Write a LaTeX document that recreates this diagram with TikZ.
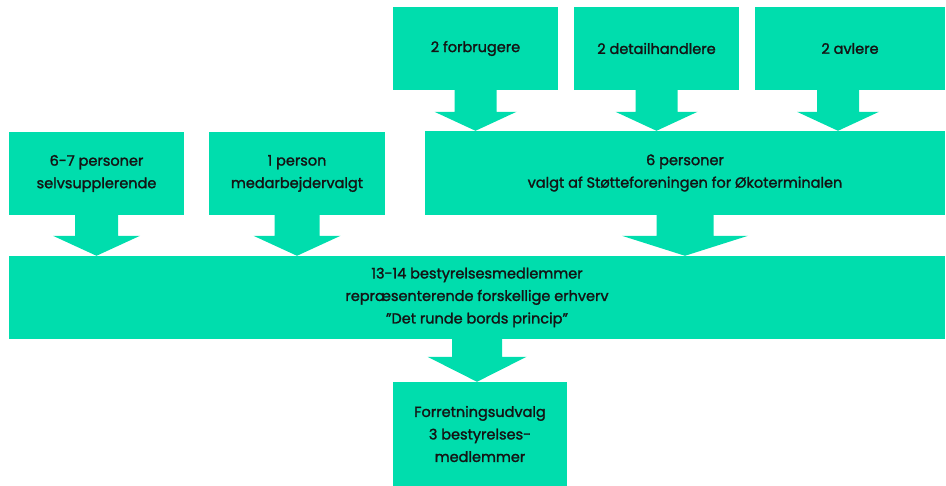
\documentclass[tikz,border=0pt]{standalone}
\usepackage{fontspec}
\setmainfont{Poppins}
\newfontfamily\boxfont{Poppins}[FakeBold=1.6]
\usepackage{tikz}
\usetikzlibrary{calc}
\definecolor{teal}{RGB}{0,221,173}
\definecolor{ink}{RGB}{20,20,20}

\newcommand{\fatarrow}[5]{%
  \fill[teal] let \p1=#1, \p2=#2 in
    (\x1-#3pt,\y1+0.5pt) -- (\x1+#3pt,\y1+0.5pt) -- (\x1+#3pt,\y2+#5pt)
    -- (\x1+#4pt,\y2+#5pt) -- (\x1,\y2) -- (\x1-#4pt,\y2+#5pt)
    -- (\x1-#3pt,\y2+#5pt) -- cycle;}

\begin{document}
\begin{tikzpicture}[x=1pt,y=1pt,
    box/.style={fill=teal,text=ink,inner sep=0pt,align=center,
      font=\boxfont\fontsize{14.5}{22.5}\selectfont}]
  \useasboundingbox (0,0) rectangle (946,486);
  \node[box,minimum width=165,minimum height=83] (forbrug) at (475.5,437.5) {2 forbrugere};
  \node[box,minimum width=165,minimum height=83] (detail) at (656.5,437.5) {2 detailhandlere};
  \node[box,minimum width=190,minimum height=83] (avler) at (850,437.5) {2 avlere};
  \node[box,minimum width=520,minimum height=84] (seks) at (685,313) {6 personer\\valgt af Støtteforeningen for Økoterminalen};
  \node[box,minimum width=175,minimum height=83] (selv) at (96.5,312.5) {6-7 personer\\selvsupplerende};
  \node[box,minimum width=176,minimum height=83] (medarb) at (297,312.5) {1 person\\medarbejdervalgt};
  \node[box,minimum width=936,minimum height=83] (bestyr) at (477,188.5) {13-14 bestyrelsesmedlemmer\\repræsenterende forskellige erhverv\\”Det runde bords princip”};
  \node[box,minimum width=174,minimum height=104] (udvalg) at (480,52) {Forretningsudvalg\\3 bestyrelses-\\medlemmer};
  \fatarrow{(forbrug.south)}{(seks.north)}{21}{41}{19}
  \fatarrow{(detail.south)}{(seks.north)}{21}{41}{19}
  \fatarrow{([xshift=-12pt]avler.south)}{(seks.north)}{21}{41}{19}
  \fatarrow{(selv.south)}{(bestyr.north)}{21.5}{43.5}{20}
  \fatarrow{(medarb.south)}{(bestyr.north)}{22.5}{43.5}{20}
  \fatarrow{(seks.south)}{(bestyr.north)}{28.5}{63}{20}
  \fatarrow{([xshift=-3pt]udvalg.north |- bestyr.south)}{(udvalg.north)}{25}{49.5}{25}
\end{tikzpicture}
\end{document}
